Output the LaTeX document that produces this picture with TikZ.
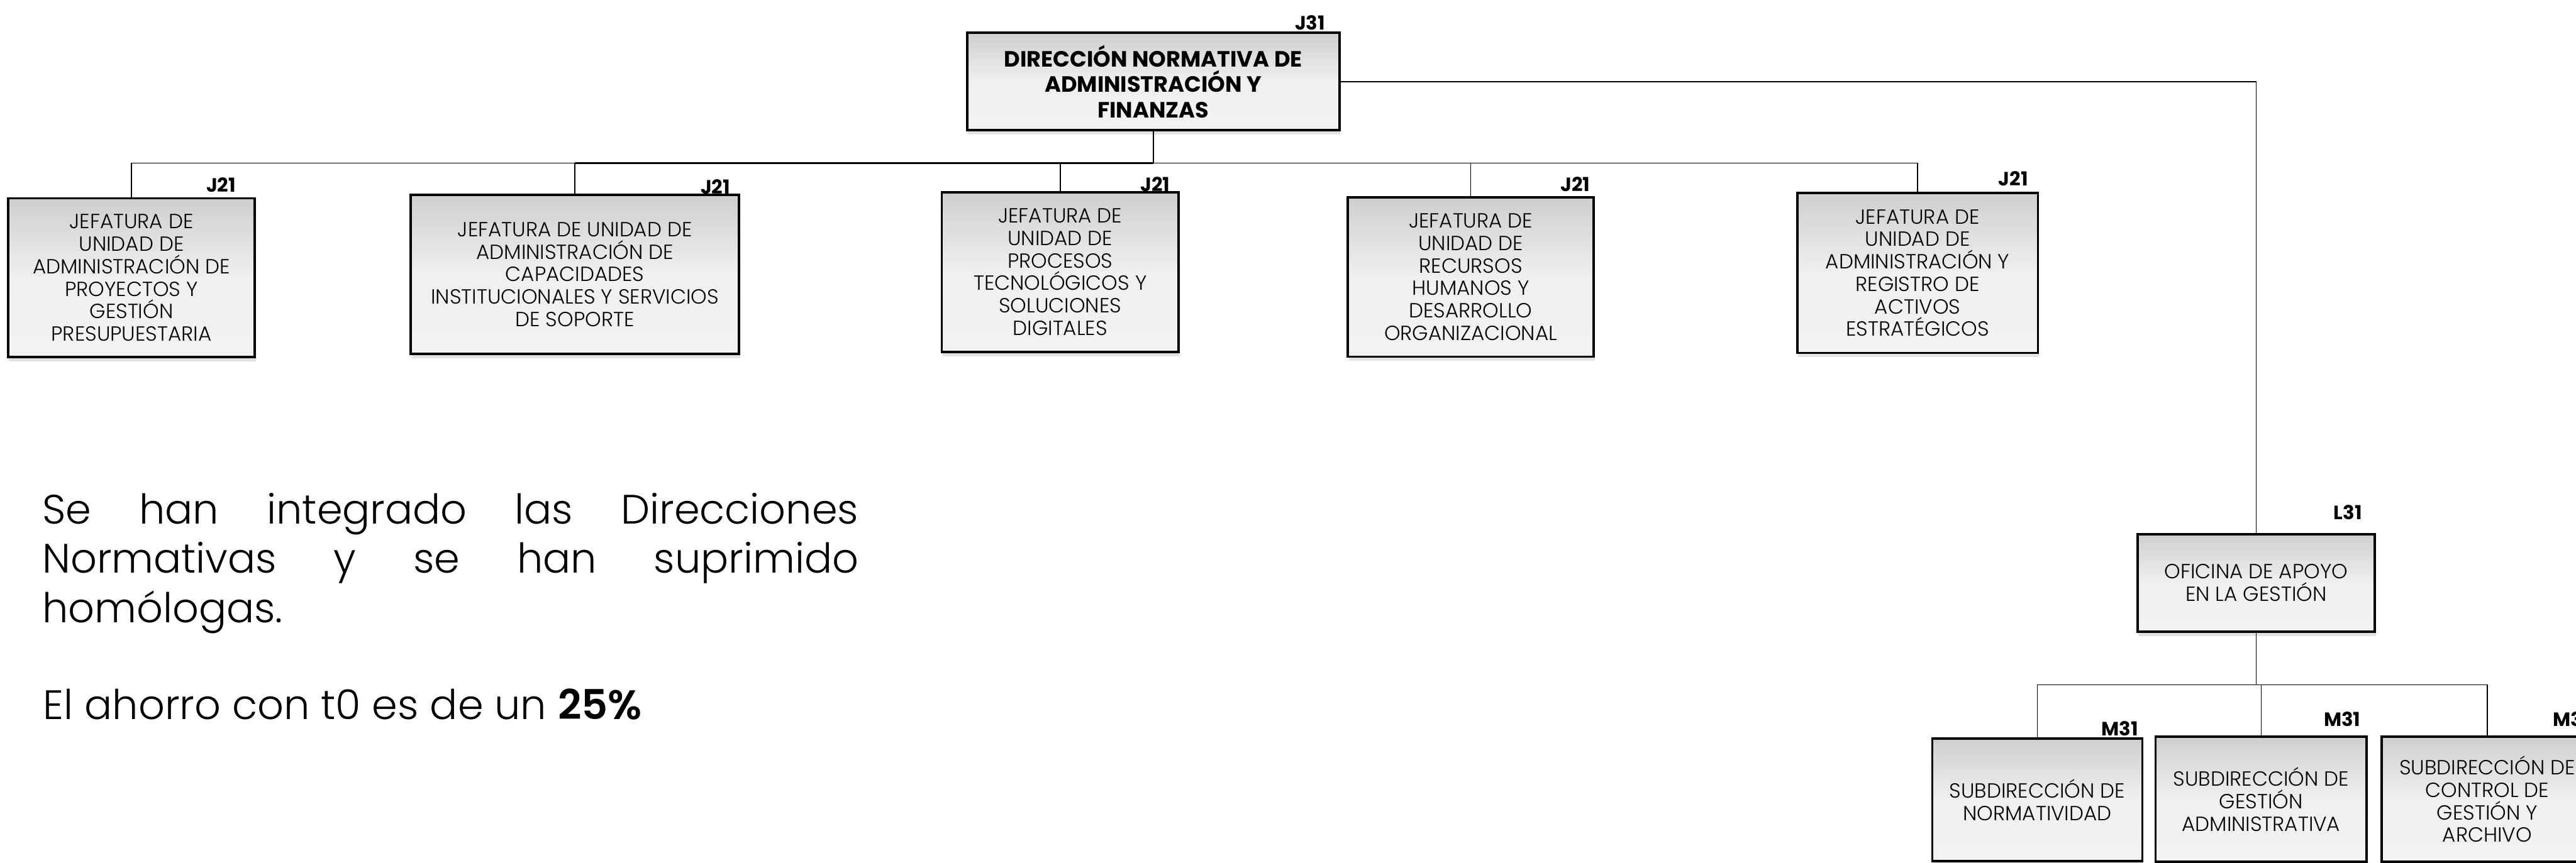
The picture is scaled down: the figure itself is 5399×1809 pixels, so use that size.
\documentclass[tikz,border=0pt]{standalone}
\usepackage{fontspec}
\setmainfont{Poppins}
\newfontfamily\lightf{Poppins Light}
\usetikzlibrary{shadows}
\tikzset{
  x=0.01cm, y=-0.01cm,
  orgbox/.style={draw=black, line width=1.4pt, top color=black!19, bottom color=black!5, middle color=black!6,
    drop shadow={shadow xshift=0.6pt, shadow yshift=-2.5pt, opacity=0.22},
    align=center, inner sep=0pt, font=\lightf\fontsize{12.2}{13.4}\selectfont},
  titlebox/.style={orgbox, font=\bfseries\fontsize{13.2}{15.1}\selectfont},
  conn/.style={line width=0.6pt, draw=black},
  lvl/.style={font=\bfseries\fontsize{11.5}{12}\selectfont, anchor=base east, inner sep=0pt}
}
\begin{document}
\begin{tikzpicture}
\useasboundingbox (0,0) rectangle (5399,1809);
\clip (0,0) rectangle (5399,1809);

% boxes
\node[titlebox, minimum width=7.80cm, minimum height=2.04cm] (top) at (2417,171) {DIRECCIÓN NORMATIVA DE\\ADMINISTRACIÓN Y\\FINANZAS};
\node[orgbox, minimum width=5.17cm, minimum height=3.33cm] (b1) at (275.5,582.5) {JEFATURA DE\\UNIDAD DE\\ADMINISTRACIÓN DE\\PROYECTOS Y\\GESTIÓN\\PRESUPUESTARIA};
\node[orgbox, minimum width=6.88cm, minimum height=3.33cm] (b2) at (1205,575.5) {JEFATURA DE UNIDAD DE\\ADMINISTRACIÓN DE\\CAPACIDADES\\INSTITUCIONALES Y SERVICIOS\\DE SOPORTE};
\node[orgbox, minimum width=4.96cm, minimum height=3.35cm] (b3) at (2222,570.5) {JEFATURA DE\\UNIDAD DE\\PROCESOS\\TECNOLÓGICOS Y\\SOLUCIONES\\DIGITALES};
\node[orgbox, minimum width=5.15cm, minimum height=3.34cm] (b4) at (3082.5,581) {JEFATURA DE\\UNIDAD DE\\RECURSOS\\HUMANOS Y\\DESARROLLO\\ORGANIZACIONAL};
\node[orgbox, minimum width=5.04cm, minimum height=3.35cm] (b5) at (4019,572.5) {JEFATURA DE\\UNIDAD DE\\ADMINISTRACIÓN Y\\REGISTRO DE\\ACTIVOS\\ESTRATÉGICOS};
\node[orgbox, minimum width=4.97cm, minimum height=2.05cm] (ofi) at (4728.5,1222.5) {OFICINA DE APOYO\\EN LA GESTIÓN};
\node[orgbox, minimum width=4.40cm, minimum height=2.57cm] (sa) at (4270,1677.5) {SUBDIRECCIÓN DE\\NORMATIVIDAD};
\node[orgbox, minimum width=4.42cm, minimum height=2.62cm] (sb) at (4739,1676) {SUBDIRECCIÓN DE\\GESTIÓN\\ADMINISTRATIVA};
\node[orgbox, minimum width=4.42cm, minimum height=2.62cm] (sc) at (5213,1676) {SUBDIRECCIÓN DE\\CONTROL DE\\GESTIÓN Y\\ARCHIVO};

% level labels
\node[lvl] (ltop) at (2778,62) {J31};
\node[lvl] (l1) at (495,403) {J21};
\node[lvl] (l2) at (1531,407) {J21};
\node[lvl] (l3) at (2453,402) {J21};
\node[lvl] (l4) at (3333,402) {J21};
\node[lvl] (l5) at (4251,389) {J21};
\node[lvl] (lofi) at (4951,1089) {L31};
\node[lvl] (lsa) at (4482,1543) {M31};
\node[lvl] (lsb) at (4948,1523) {M31};
\node[lvl] (lsc) at (5428,1523) {M31};

% connectors
\coordinate (bus) at (2417,342);
\coordinate (bus2) at (4729,1436);
\foreach \c in {b1,b2,b3,b4,b5}{
  \draw[conn] (top.south) |- (\c.north |- bus) -- (\c.north);
}
\draw[conn, line width=1.4pt] (b2.north |- bus) -- (bus);
\draw[conn] (top.east) -| (ofi.north);
\foreach \c in {sa,sb,sc}{
  \draw[conn] (ofi.south) |- (\c.north |- bus2) -- (\c.north);
}

% notes
\node[font=\lightf\fontsize{24.5}{29.3}\selectfont, text width=17.1cm, align=justify, anchor=base west, inner sep=0pt] (note1) at (88,1099)
  {Se han integrado las Direcciones\linebreak Normativas y se han suprimido\linebreak homólogas.};
\node[font=\lightf\fontsize{24.5}{29.3}\selectfont, anchor=base west, inner sep=0pt] (note2) at (90,1509)
  {El ahorro con t0 es de un {\fontspec{Poppins}[BoldFont=* SemiBold]\bfseries 25\%}};
\end{tikzpicture}
\end{document}
